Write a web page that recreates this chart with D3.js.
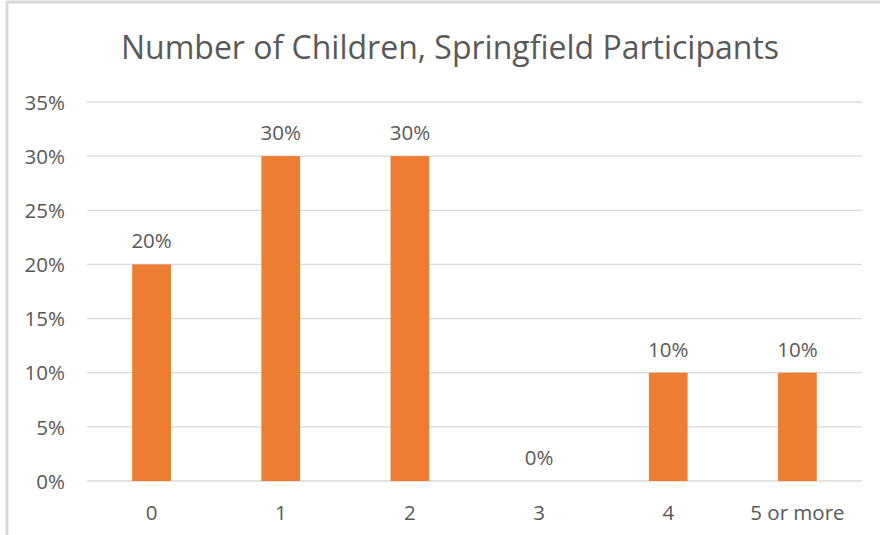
<!DOCTYPE html>
<html>
<head>
<meta charset="utf-8">
<script src="https://cdn.jsdelivr.net/npm/d3@7"></script>
<style>
  body { margin: 0; background: #fff; }
  text { font-family: "Open Sans", "Noto Sans", sans-serif; fill: #595959; }
</style>
</head>
<body>
<svg id="chart"></svg>
<script>
const categories = ['0', '1', '2', '3', '4', '5 or more'];
const shares = [0.20, 0.30, 0.30, 0.00, 0.10, 0.10];
const yTicks = [0, 0.05, 0.10, 0.15, 0.20, 0.25, 0.30, 0.35];
const title = 'Number of Children, Springfield Participants';

const width = 880, height = 535;
const margin = {top: 102, right: 18, bottom: 54, left: 87};
const innerW = width - margin.left - margin.right;
const innerH = height - margin.top - margin.bottom;

const svg = d3.select('#chart')
    .attr('width', width)
    .attr('height', height);

// chart frame (runs off the right and bottom of the picture)
svg.append('rect')
    .attr('x', 7).attr('y', 2)
    .attr('width', width + 20).attr('height', height + 20)
    .attr('fill', 'none')
    .attr('stroke', '#d9d9d9')
    .attr('stroke-width', 3);

svg.append('text')
    .attr('x', 450).attr('y', 59)
    .attr('text-anchor', 'middle')
    .style('font-size', '32px')
    .text(title);

const g = svg.append('g')
    .attr('transform', 'translate(' + margin.left + ',' + margin.top + ')');

const x = d3.scaleBand().domain(categories).range([0, innerW]).paddingInner(0.7).paddingOuter(0.35);
const y = d3.scaleLinear().domain([0, 0.35]).range([innerH, 0]);

// gridlines
g.selectAll('.grid')
    .data(yTicks)
  .enter().append('line')
    .attr('class', 'grid')
    .attr('x1', 0).attr('x2', innerW)
    .attr('y1', (d) => y(d)).attr('y2', (d) => y(d))
    .attr('stroke', '#d9d9d9')
    .attr('stroke-width', 1.3);

const yAxis = g.append('g')
    .call(d3.axisLeft(y).tickValues(yTicks).tickFormat(d3.format('.0%')).tickSize(0).tickPadding(22));
yAxis.select('.domain').remove();
yAxis.selectAll('text').style('font-size', '20.5px').attr('dy', '0.35em');

const xAxis = g.append('g')
    .attr('transform', 'translate(0,' + innerH + ')')
    .call(d3.axisBottom(x).tickSize(0).tickPadding(24));
xAxis.select('.domain').remove();
xAxis.selectAll('text').style('font-size', '20.5px');

g.selectAll('.bar')
    .data(shares)
  .enter().append('rect')
    .attr('class', 'bar')
    .attr('x', (d, i) => x(categories[i]))
    .attr('y', (d) => y(d))
    .attr('width', x.bandwidth())
    .attr('height', (d) => innerH - y(d))
    .attr('fill', '#ed7d31');

g.selectAll('.label')
    .data(shares)
  .enter().append('text')
    .attr('class', 'label')
    .attr('x', (d, i) => x(categories[i]) + x.bandwidth() / 2)
    .attr('y', (d) => y(d) - 16)
    .attr('text-anchor', 'middle')
    .style('font-size', '20.5px')
    .text((d) => d3.format('.0%')(d));
</script>
</body>
</html>
